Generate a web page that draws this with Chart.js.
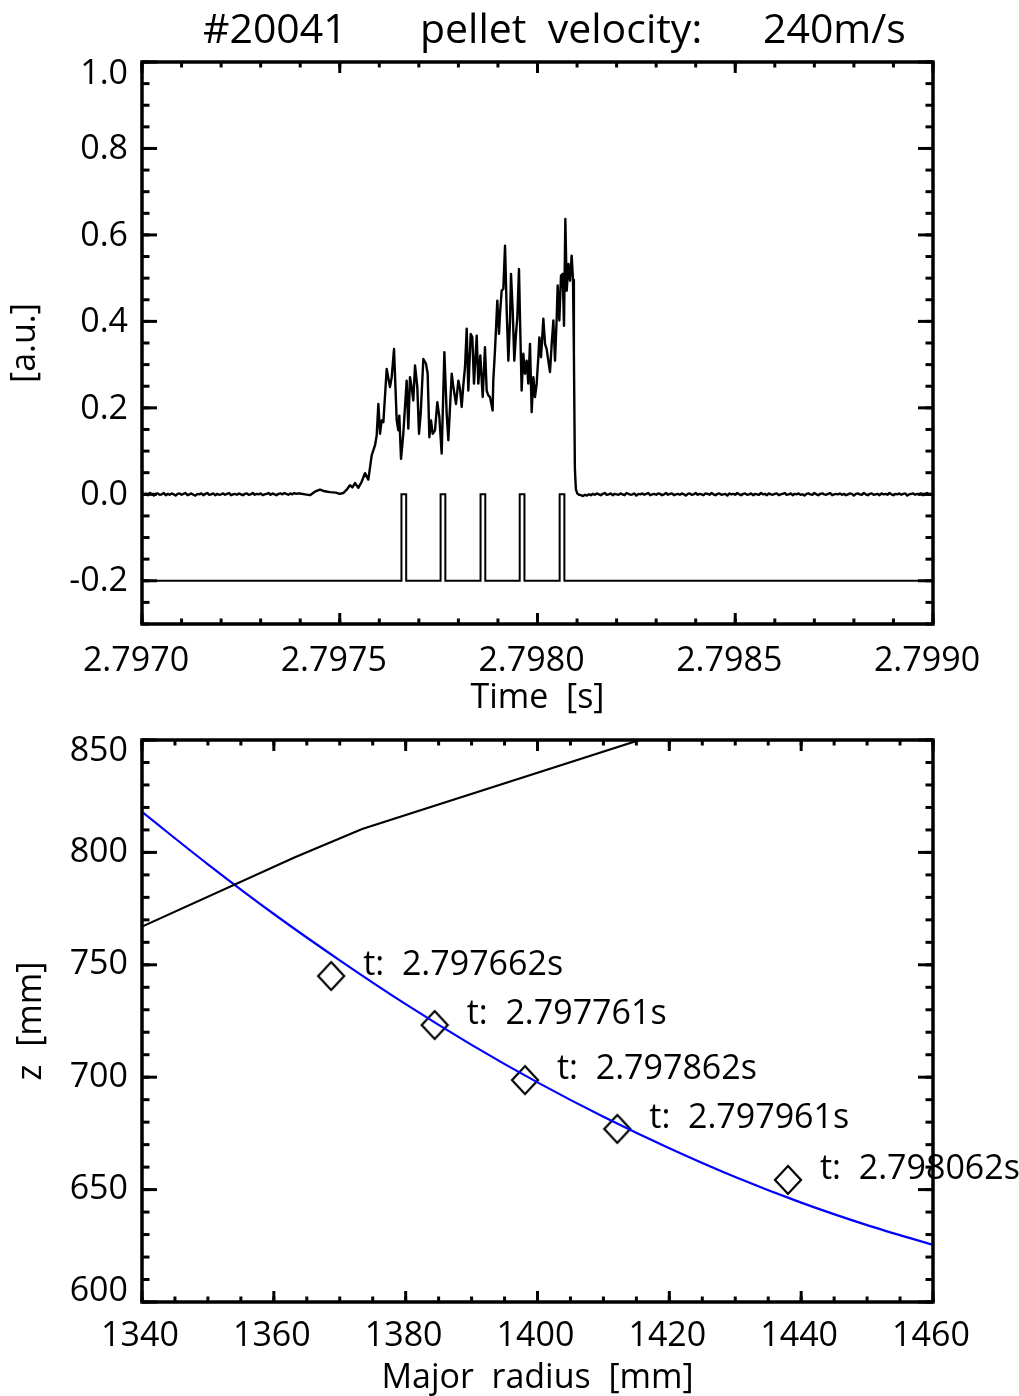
<!DOCTYPE html>
<html>
<head>
<meta charset="utf-8">
<title>#20041 pellet velocity 240 m/s</title>
<script src="https://cdn.jsdelivr.net/npm/chart.js@4.4.1/dist/chart.umd.min.js"></script>
<style>
  html, body { margin: 0; padding: 0; background: #fff; }
  #wrap { position: relative; width: 1019px; height: 1396px; overflow: hidden; background: #fff; }
  canvas { position: absolute; left: 0; }
  #signal { top: 0; }
  #trajectory { top: 700px; }
</style>
</head>
<body>
<div id="wrap">
  <canvas id="signal" width="1019" height="720"></canvas>
  <canvas id="trajectory" width="1019" height="696"></canvas>
</div>
<script>
// ---------------------------------------------------------------
// Shot #20041, pellet velocity 240 m/s
// ---------------------------------------------------------------
const FONT = "'Open Sans', 'DejaVu Sans', sans-serif";
const headerShot = '#20041';
const headerLabel = 'pellet  velocity:';
const headerValue = '240m/s';

// ---- upper panel: ablation monitor signal vs. time ----
const T0 = 2.797;                                   // s, start of the window
const timeTicks = [2.7970, 2.7975, 2.7980, 2.7985, 2.7990];
const signalTicks = [-0.2, 0.0, 0.2, 0.4, 0.6, 0.8, 1.0];

// quiet baseline before the pellet enters (5 us sampling from T0)
const preStartUs = 0, preStepUs = 5;
const preNoise = [
   0.002,-0.001, 0.001,-0.002, 0.003, 0.000,-0.003, 0.001, 0.002,-0.001,
   0.000, 0.003,-0.002, 0.001,-0.001, 0.002, 0.000,-0.003, 0.001, 0.002,
  -0.001, 0.001, 0.003,-0.002, 0.000, 0.002,-0.001,-0.003, 0.001, 0.000,
   0.002,-0.002, 0.001, 0.003,-0.001, 0.000, 0.002,-0.002, 0.001,-0.001,
   0.000, 0.002,-0.001, 0.001, 0.003,-0.002, 0.000, 0.001,-0.001, 0.002,
   0.000,-0.002, 0.001, 0.002,-0.001, 0.000, 0.003,-0.001, 0.001, 0.000,
   0.002,-0.002, 0.000, 0.001, 0.003,-0.001, 0.002, 0.000,-0.002, 0.001,
   0.002, 0.000, 0.003, 0.001,-0.001, 0.002, 0.000, 0.003, 0.001, 0.002
];

// ablation phase: time offset from T0 in microseconds, signal in a.u.
const activeTimeUs = [
  399.5, 412.0, 424.8, 437.0, 450.1, 462.0, 475.3, 490.0, 500.0, 509.0,
  517.0, 525.9, 532.0, 538.5, 547.0, 555.4, 563.8, 572.3, 580.7, 589.1,
  593.4, 597.6, 601.8, 606.0, 610.3, 618.7, 627.0, 631.4, 637.2, 644.0,
  648.1, 650.6, 654.9, 660.7, 669.2, 673.4, 677.6, 681.8, 686.0, 690.3,
  696.1, 700.4, 704.6, 711.4, 718.1, 722.3, 726.6, 730.8, 735.0, 740.8,
  746.7, 751.8, 757.7, 764.5, 770.4, 774.6, 783.1, 787.3, 794.0, 799.9,
  804.1, 808.3, 812.4, 816.7, 821.0, 825.1, 831.1, 835.2, 839.4, 846.3,
  850.4, 855.4, 861.4, 867.2, 871.5, 875.6, 879.9, 886.6, 888.2, 892.5,
  898.4, 902.6, 905.2, 909.4, 913.6, 917.9, 922.1, 926.3, 930.5, 933.0,
  937.3, 941.4, 945.6, 949.0, 953.2, 955.7, 959.9, 964.2, 968.4, 972.6,
  976.8, 981.0, 985.3, 989.5, 993.7, 997.9, 1002.1, 1004.7, 1008.9, 1014.8,
  1019.0, 1023.2, 1027.4, 1031.6, 1035.9, 1040.1, 1044.3, 1048.5, 1051.0, 1055.2,
  1059.4, 1063.7, 1067.0, 1070.4, 1073.9, 1078.1, 1082.2, 1086.4, 1089.8, 1092.0,
  1094.5, 1097.0, 1100.5, 1105.0
];
const activeValue = [
  0.002, 0.000,-0.002, 0.006, 0.011, 0.007, 0.005, 0.004, 0.001, 0.003,
  0.010, 0.021, 0.016, 0.026, 0.015, 0.029, 0.049, 0.034, 0.090, 0.113,
  0.136, 0.209, 0.140, 0.171, 0.167, 0.290, 0.248, 0.271, 0.336, 0.171,
  0.148, 0.182, 0.082, 0.140, 0.263, 0.152, 0.271, 0.248, 0.217, 0.298,
  0.248, 0.140, 0.186, 0.313, 0.302, 0.279, 0.132, 0.171, 0.140, 0.148,
  0.213, 0.179, 0.094, 0.329, 0.186, 0.125, 0.279, 0.248, 0.209, 0.263,
  0.244, 0.202, 0.252, 0.294, 0.383, 0.240, 0.371, 0.363, 0.256, 0.367,
  0.256, 0.321, 0.225, 0.340, 0.240, 0.229, 0.225, 0.194, 0.263, 0.333,
  0.448, 0.371, 0.417, 0.471, 0.475, 0.575, 0.425, 0.309, 0.402, 0.510,
  0.425, 0.309, 0.371, 0.409, 0.521, 0.409, 0.240, 0.325, 0.279, 0.309,
  0.256, 0.348, 0.190, 0.271, 0.225, 0.256, 0.317, 0.363, 0.317, 0.406,
  0.348, 0.336, 0.309, 0.283, 0.348, 0.402, 0.309, 0.406, 0.483, 0.402,
  0.506, 0.510, 0.390, 0.637, 0.471, 0.533, 0.494, 0.552, 0.496, 0.330,
  0.060, 0.012, 0.002,-0.001
];

// baseline after the pellet has burnt out
const postStartUs = 1110, postStepUs = 5;
const postNoise = [
  -0.002,-0.004,-0.001,-0.003, 0.000,-0.002, 0.001,-0.001, 0.002, 0.000,
  -0.002, 0.001, 0.003,-0.001, 0.000, 0.002,-0.002, 0.001, 0.000,-0.001,
   0.002, 0.000,-0.002, 0.003, 0.001,-0.001, 0.000, 0.002,-0.003, 0.001,
   0.000, 0.002,-0.001, 0.001, 0.003,-0.002, 0.000, 0.001,-0.001, 0.002,
   0.001,-0.002, 0.000, 0.003,-0.001, 0.001, 0.002,-0.002, 0.000, 0.001,
  -0.001, 0.002, 0.000,-0.003, 0.001, 0.002,-0.001, 0.000, 0.003,-0.001,
   0.001, 0.000,-0.002, 0.002, 0.001,-0.001, 0.003, 0.000,-0.002, 0.001,
   0.002,-0.001, 0.000, 0.001,-0.003, 0.002, 0.000, 0.001,-0.001, 0.003,
   0.000,-0.002, 0.001, 0.002,-0.001, 0.000, 0.002,-0.002, 0.001, 0.000,
  -0.001, 0.003, 0.000, 0.001,-0.002, 0.002, 0.000,-0.001, 0.001, 0.002,
  -0.002, 0.000, 0.001, 0.003,-0.001, 0.000, 0.002,-0.002, 0.001, 0.000,
   0.002,-0.001, 0.000,-0.003, 0.001, 0.002, 0.000,-0.001, 0.003, 0.000,
  -0.002, 0.001, 0.002, 0.000,-0.001, 0.001, 0.003,-0.002, 0.000, 0.001,
   0.000, 0.002,-0.001, 0.001,-0.002, 0.000, 0.002, 0.001,-0.003, 0.001,
   0.002, 0.000,-0.001, 0.003, 0.000,-0.002, 0.001, 0.002,-0.001, 0.000,
   0.001,-0.002, 0.002, 0.000, 0.001,-0.001, 0.003, 0.000,-0.002, 0.001,
   0.000, 0.002,-0.001, 0.001, 0.002,-0.003, 0.000, 0.001, 0.002,-0.001,
   0.001, 0.000, 0.002,-0.002, 0.001, 0.003,-0.001, 0.000, 0.002
];

// camera gate: one frame per pellet position
const gateTimes = [2.797662, 2.797761, 2.797862, 2.797961, 2.798062];
const gateLow = -0.2, gateHigh = 0.0;
const gateHalfWidth = 6e-6;   // s

// ---- lower panel: pellet positions in the poloidal plane ----
const radiusTicks = [1340, 1360, 1380, 1400, 1420, 1440, 1460];
const zTicks = [600, 650, 700, 750, 800, 850];
const pelletR = [1368.7, 1384.4, 1398.1, 1412.1, 1438.0];
const pelletZ = [745.0, 723.2, 698.7, 677.0, 654.3];
const pelletT = gateTimes;

// fitted pellet path
const fitR = [1340, 1350, 1360, 1370, 1380, 1390, 1400, 1410, 1420, 1430, 1440, 1450, 1460];
const fitZ = [818.0, 794.7, 772.6, 752.0, 732.5, 714.4, 697.7, 682.4, 668.4, 655.6, 644.2, 634.2, 625.4];

// plasma boundary
const boundaryR = [1340, 1363.2, 1373.4, 1415.5, 1425.0];
const boundaryZ = [767.0, 797.8, 810.4, 850.0, 858.9];

// ---------------------------------------------------------------
Chart.defaults.font.family = FONT;
Chart.defaults.color = '#000';

const sig = [];
preNoise.forEach((v, i) => sig.push({ x: T0 + (preStartUs + i * preStepUs) * 1e-6, y: v }));
activeTimeUs.forEach((t, i) => sig.push({ x: T0 + t * 1e-6, y: activeValue[i] }));
postNoise.forEach((v, i) => sig.push({ x: T0 + (postStartUs + i * postStepUs) * 1e-6, y: v }));

const gate = [{ x: timeTicks[0], y: gateLow }];
gateTimes.forEach(t => {
  gate.push({ x: t - gateHalfWidth, y: gateLow }, { x: t - gateHalfWidth, y: gateHigh },
            { x: t + gateHalfWidth, y: gateHigh }, { x: t + gateHalfWidth, y: gateLow });
});
gate.push({ x: timeTicks[timeTicks.length - 1], y: gateLow });

const pairs = (xs, ys) => xs.map((x, i) => ({ x, y: ys[i] }));

// inward tick marks on all four sides and a heavy frame
const frameTicks = {
  id: 'frameTicks',
  afterDraw(chart, args, o) {
    const { ctx, chartArea: a, scales: { x, y } } = chart;
    const line = (x1, y1, x2, y2) => { ctx.beginPath(); ctx.moveTo(x1, y1); ctx.lineTo(x2, y2); ctx.stroke(); };
    const steps = (s, step) => {
      const n = Math.round((s.max - s.min) / step), out = [];
      for (let i = 0; i <= n; i++) out.push(s.min + i * step);
      return out;
    };
    ctx.save();
    ctx.strokeStyle = '#000';
    ctx.lineCap = 'butt';
    ctx.lineWidth = 3;
    steps(x, o.xMinor).forEach(v => {
      const p = x.getPixelForValue(v);
      line(p, a.bottom, p, a.bottom - o.xMinorLen); line(p, a.top, p, a.top + o.xMinorLen);
    });
    x.ticks.forEach(t => {
      const p = x.getPixelForValue(t.value);
      line(p, a.bottom, p, a.bottom - o.xMajorLen); line(p, a.top, p, a.top + o.xMajorLen);
    });
    steps(y, o.yMinor).forEach(v => {
      const p = y.getPixelForValue(v);
      line(a.left, p, a.left + o.yMinorLen, p); line(a.right, p, a.right - o.yMinorLen, p);
    });
    y.ticks.forEach(t => {
      const p = y.getPixelForValue(t.value);
      line(a.left, p, a.left + o.yMajorLen, p); line(a.right, p, a.right - o.yMajorLen, p);
    });
    ctx.lineWidth = 3.5;
    ctx.strokeRect(a.left, a.top, a.right - a.left, a.bottom - a.top);
    ctx.restore();
  }
};

// header line above the upper panel
const header = {
  id: 'header',
  afterDraw(chart) {
    const ctx = chart.ctx;
    ctx.save();
    ctx.fillStyle = '#000';
    ctx.font = '41px ' + FONT;
    ctx.textBaseline = 'middle';
    ctx.textAlign = 'left';
    ctx.fillText(headerShot, 203, 31);
    ctx.fillText(headerLabel, 420, 31);
    ctx.fillText(headerValue, 763, 31);
    ctx.restore();
  }
};

// time stamp next to each pellet position
const stamps = {
  id: 'stamps',
  afterDraw(chart) {
    const ctx = chart.ctx;
    const meta = chart.getDatasetMeta(2);
    ctx.save();
    ctx.fillStyle = '#000';
    ctx.font = '34px ' + FONT;
    ctx.textBaseline = 'middle';
    ctx.textAlign = 'left';
    meta.data.forEach((pt, i) => {
      ctx.fillText('t:  ' + pelletT[i].toFixed(6) + 's', pt.x + 32, pt.y - 11);
    });
    ctx.restore();
  }
};

function diamondGlyph(w, h, lw) {
  const c = document.createElement('canvas');
  c.width = w + 2 * lw; c.height = h + 2 * lw;
  const g = c.getContext('2d');
  const cx = c.width / 2, cy = c.height / 2;
  g.strokeStyle = '#000'; g.lineWidth = lw; g.lineJoin = 'miter';
  g.beginPath();
  g.moveTo(cx, cy - h / 2); g.lineTo(cx + w / 2, cy); g.lineTo(cx, cy + h / 2); g.lineTo(cx - w / 2, cy);
  g.closePath(); g.stroke();
  return c;
}

// end labels of a vertical axis sit inside the frame: pad them with an empty line
function endInside(fmt, lo, hi, pushLow) {
  return v => {
    const s = fmt(v);
    if (Math.abs(v - hi) < 1e-9) return ['', s];
    if (pushLow && Math.abs(v - lo) < 1e-9) return [s, ''];
    return s;
  };
}

function axis(min, max, tickValues, fmt, title, opts) {
  return {
    type: 'linear', min, max,
    afterBuildTicks: s => { s.ticks = tickValues.map(v => ({ value: v })); },
    afterFit: s => { if (opts.width) s.width = opts.width; if (opts.height) s.height = opts.height; },
    grid: { display: false, drawTicks: false },
    border: { display: false },
    ticks: { callback: fmt, font: { size: 34, lineHeight: opts.lineHeight || 1.2 }, padding: opts.pad,
             labelOffset: opts.labelOffset || 0, maxRotation: 0, autoSkip: false, color: '#000' },
    title: { display: true, text: title, font: { size: 34, lineHeight: 1 }, color: '#000',
             padding: opts.titlePad }
  };
}

new Chart(document.getElementById('signal'), {
  type: 'line',
  data: {
    datasets: [
      { data: sig, borderColor: '#000', borderWidth: 2.4, pointRadius: 0, tension: 0, borderJoinStyle: 'round' },
      { data: gate, borderColor: '#000', borderWidth: 2, pointRadius: 0, tension: 0 }
    ]
  },
  options: {
    responsive: false, animation: false, events: [], devicePixelRatio: 1,
    layout: { padding: { top: 62, right: 86, left: 0, bottom: 0 } },
    plugins: {
      legend: { display: false }, tooltip: { enabled: false },
      frameTicks: { xMinor: 0.0001, yMinor: 0.05, xMajorLen: 11, xMinorLen: 5.5, yMajorLen: 15, yMinorLen: 7.5 }
    },
    scales: {
      x: axis(timeTicks[0], timeTicks[timeTicks.length - 1], timeTicks, v => v.toFixed(4), 'Time  [s]',
              { height: 96, pad: 17, labelOffset: -6, titlePad: { top: 0, bottom: 5 } }),
      y: axis(-0.3, 1.0, signalTicks, endInside(v => v.toFixed(1), -0.3, 1.0, false), '[a.u.]',
              { width: 142, pad: 14, labelOffset: 1, lineHeight: 0.65, titlePad: { top: 8, bottom: 0 } })
    }
  },
  plugins: [frameTicks, header]
});

new Chart(document.getElementById('trajectory'), {
  type: 'line',
  data: {
    datasets: [
      { data: pairs(boundaryR, boundaryZ), borderColor: '#000', borderWidth: 2.2, pointRadius: 0, tension: 0 },
      { data: pairs(fitR, fitZ), borderColor: '#0000ff', borderWidth: 2.2, pointRadius: 0,
        cubicInterpolationMode: 'monotone' },
      { data: pairs(pelletR, pelletZ), showLine: false, pointRadius: 5,
        pointStyle: diamondGlyph(26, 28, 2.2) }
    ]
  },
  options: {
    responsive: false, animation: false, events: [], devicePixelRatio: 1,
    layout: { padding: { top: 40, right: 86, left: 0, bottom: 0 } },
    plugins: {
      legend: { display: false }, tooltip: { enabled: false },
      frameTicks: { xMinor: 5, yMinor: 10, xMajorLen: 11, xMinorLen: 5.5, yMajorLen: 15, yMinorLen: 7.5 }
    },
    scales: {
      x: axis(1340, 1460, radiusTicks, v => String(v), 'Major  radius  [mm]',
              { height: 94, pad: 14, labelOffset: -2, titlePad: { top: 0, bottom: 1 } }),
      y: axis(600, 850, zTicks, endInside(v => String(v), 600, 850, true), 'z  [mm]',
              { width: 142, pad: 14, labelOffset: 0, lineHeight: 0.65, titlePad: { top: 14, bottom: 0 } })
    }
  },
  plugins: [frameTicks, stamps]
});
</script>
</body>
</html>
